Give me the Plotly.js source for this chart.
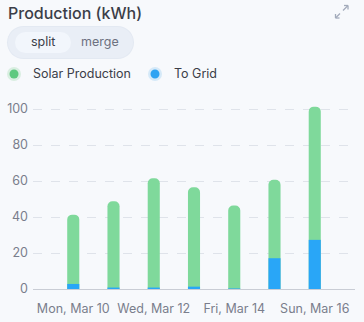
<!DOCTYPE html>
<html>
<head>
<meta charset="utf-8">
<script src="https://cdn.plot.ly/plotly-3.0.1.min.js"></script>
<style>
html,body{margin:0;padding:0;background:#f7f9fc;}
#chart{width:364px;height:322px;}
</style>
</head>
<body>
<div id="chart"></div>
<script>
const days = ['Mon, Mar 10','Tue, Mar 11','Wed, Mar 12','Thu, Mar 13','Fri, Mar 14','Sat, Mar 15','Sun, Mar 16'];
const solarProduction = [41.3, 48.7, 61.5, 56.5, 46.4, 60.7, 101.3];
const toGrid = [2.8, 0.8, 0.8, 1.3, 0.3, 17.1, 27.3];
const seriesNames = ['Solar Production', 'To Grid'];
const yTicks = [0, 20, 40, 60, 80, 100];
const shownDays = days.filter((d, i) => i % 2 === 0);

const green = '#7fd99b';
const blue = '#29a6f7';
const font = 'Inter, "Open Sans", sans-serif';

const ML = 33, MT = 100, MR = 9, MB = 33, W = 364, H = 322;

const traces = [
  {type:'bar', x:days, y:solarProduction, name:seriesNames[0], marker:{color:green}, width:0.3, showlegend:false, hoverinfo:'none'},
  {type:'bar', x:days, y:toGrid, name:seriesNames[1], marker:{color:blue}, width:0.3, showlegend:false, hoverinfo:'none'}
];

function base(){ return {xsizemode:'pixel', ysizemode:'pixel', xref:'paper', yref:'paper', xanchor:0, yanchor:1}; }
function rect(x0, y0, x1, y1, color){
  return Object.assign(base(), {type:'rect', x0:x0-ML, x1:x1-ML, y0:MT-y0, y1:MT-y1, fillcolor:color, line:{width:0}});
}
function circle(cx, cy, r, color){
  return Object.assign(base(), {type:'circle', x0:cx-r-ML, x1:cx+r-ML, y0:MT-(cy-r), y1:MT-(cy+r), fillcolor:color, line:{width:0}});
}
function pill(x0, y0, x1, y1, color){
  const r = (y1 - y0) / 2;
  return [rect(x0 + r, y0, x1 - r, y1, color), circle(x0 + r, y0 + r, r, color), circle(x1 - r, y0 + r, r, color)];
}
function line(x0, y0, x1, y1){
  return Object.assign(base(), {type:'line', x0:x0-ML, x1:x1-ML, y0:MT-y0, y1:MT-y1, line:{color:'#a3abbb', width:1.3}});
}
function txt(t, x, y, size, color, align, weight){
  return {text:t, xref:'paper', yref:'paper', x:(x-ML)/(W-ML-MR), y:(H-MB-y)/(H-MT-MB), showarrow:false,
    xanchor:align, yanchor:'middle', font:{family:font, size:size, color:color, weight:weight||400}};
}

const shapes = [].concat(
  pill(7, 26, 134, 59, '#e3e9f2'),
  pill(8, 27, 133, 58, '#e9eef6'),
  pill(15, 32, 71, 53, '#f2f6fc'),
  [circle(14, 74, 7, '#d9eee1'), circle(14, 74, 4.5, '#5ec97f'),
   circle(155, 74, 7, '#d5e9f8'), circle(155, 74, 4.5, '#2fa3f2'),
   line(335.5, 18, 340, 13.5), line(343, 10.5, 348, 5.5),
   line(348, 5.5, 344, 5.5), line(348, 5.5, 348, 9.5),
   line(335.5, 18, 335.5, 14), line(335.5, 18, 339.5, 18)]
);

const layout = {
  width:W, height:H,
  paper_bgcolor:'#f7f9fc', plot_bgcolor:'#f7f9fc',
  margin:{l:ML, r:MR, t:MT, b:MB},
  barmode:'overlay',
  barcornerradius:5,
  font:{family:font, color:'#7a7e8c', size:12},
  xaxis:{type:'category', range:[-1, 7], tickvals:shownDays, ticktext:shownDays,
    showgrid:false, zeroline:false, showline:true, linecolor:'#c9cdd5', linewidth:1,
    ticks:'', ticklen:0, ticklabelstandoff:8, tickfont:{size:12.5, color:'#7a7e8c'}, fixedrange:true},
  yaxis:{range:[0, 105], tickvals:yTicks, showgrid:true, gridcolor:'#dfe3ea', griddash:'dash', gridwidth:1,
    zeroline:false, showline:false, ticks:'', tickfont:{size:12.5, color:'#7a7e8c'}, ticklabelstandoff:4, fixedrange:true},
  shapes:shapes,
  annotations:[
    txt('Production (kWh)', 6, 13, 16, '#3b3e48', 'left', 500),
    txt('split', 43, 42, 12.5, '#3b3e48', 'center'),
    txt('merge', 100, 42, 12.5, '#6d7180', 'center'),
    txt('Solar Production', 31, 74, 12.5, '#3b3e48', 'left'),
    txt('To Grid', 172, 74, 12.5, '#3b3e48', 'left')
  ]
};

Plotly.newPlot('chart', traces, layout, {displayModeBar:false, staticPlot:true});
</script>
</body>
</html>
